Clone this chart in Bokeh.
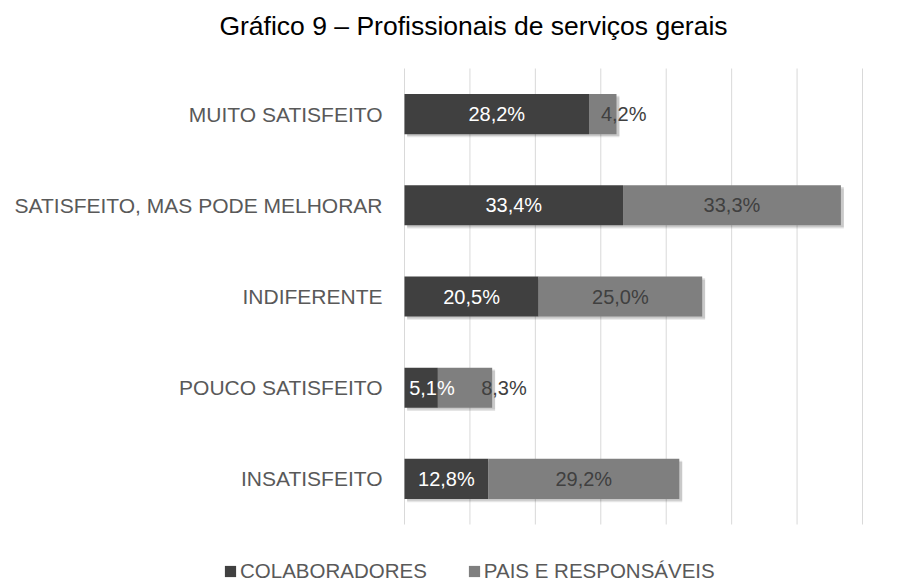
from bokeh.plotting import figure
from bokeh.models import ColumnDataSource, Legend, LegendItem, Label
from bokeh.transform import dodge
from bokeh.embed import file_html
from bokeh.resources import INLINE
from bokeh.core.properties import value

# ---- data ----
title_text = "Gráfico 9 – Profissionais de serviços gerais"
categories = ["MUITO SATISFEITO", "SATISFEITO, MAS PODE MELHORAR",
              "INDIFERENTE", "POUCO SATISFEITO", "INSATISFEITO"]
colaboradores = [28.2, 33.4, 20.5, 5.1, 12.8]
pais = [4.2, 33.3, 25.0, 8.3, 29.2]
series_names = ["COLABORADORES", "PAIS E RESPONSÁVEIS"]
grid_ticks = [0, 10, 20, 30, 40, 50, 60, 70]

FONT = "Liberation Sans"
C_DARK = "#404040"
C_LIGHT = "#7f7f7f"
TXT = "#595959"

# ---- layout geometry (pixels) ----
W, Hgt = 899, 583
OFF_X, OFF_Y = 1, 0          # page position of canvas origin (measured)
PLOT_L, PLOT_R = 405, 863    # page x of 0 % and 70 %
PLOT_T, PLOT_B = 68, 524     # page y of top/bottom of category area
n = len(categories)
kx = (PLOT_R - PLOT_L) / (grid_ticks[-1] - grid_ticks[0])
ky = (PLOT_B - PLOT_T) / n
x0 = grid_ticks[0] - (PLOT_L - OFF_X) / kx
x1 = x0 + W / kx
y1 = (PLOT_B - OFF_Y) / ky
y0 = y1 - Hgt / ky

def fmt(v):
    return f"{v:.1f}".replace(".", ",") + "%"

ypos = [n - i - 0.5 for i in range(n)]
total = [a + b for a, b in zip(colaboradores, pais)]
colab_lx = [max(a / 2, 4.2) for a in colaboradores]
pais_lx = [max(a + b / 2, a + 5.3, cx + 11.0) for a, b, cx in zip(colaboradores, pais, colab_lx)]

src = ColumnDataSource(dict(
    cat=categories, y=ypos, colab=colaboradores, pais=pais, total=total,
    zero=[0] * n,
    colab_lbl=[fmt(v) for v in colaboradores],
    pais_lbl=[fmt(v) for v in pais],
    colab_lx=colab_lx, pais_lx=pais_lx,
    sh_l=[0.4] * n, sh_r=[t + 0.45 for t in total],
    lab_x=[-22 / kx] * n,
))

p = figure(width=W, height=Hgt, x_range=(x0, x1), y_range=(y0, y1),
           min_border=0, output_backend="svg", toolbar_location=None,
           x_axis_location=None, y_axis_location=None)
p.outline_line_color = None
p.xgrid.grid_line_color = None
p.ygrid.grid_line_color = None
p.background_fill_color = "white"
p.border_fill_color = "white"

# vertical grid lines (category area only)
p.segment(x0=grid_ticks, x1=grid_ticks, y0=[0] * len(grid_ticks),
          y1=[n] * len(grid_ticks), line_color="#d9d9d9", line_width=1)

# category labels
p.text(x="lab_x", y="y", text="cat", source=src, text_align="right",
       text_baseline="middle", text_font=value(FONT), text_font_size="21px",
       text_color=TXT)

BH = 0.44
for off, a in [(0.035, 0.10), (0.02, 0.12)]:
    p.hbar(y=dodge("y", -off), left="sh_l", right="sh_r",
           height=BH, source=src, fill_color="black", fill_alpha=a, line_color=None)

r1 = p.hbar(y="y", left="zero", right="colab", height=BH, source=src,
            fill_color=C_DARK, line_color=None)
r2 = p.hbar(y="y", left="colab", right="total", height=BH, source=src,
            fill_color=C_LIGHT, line_color=None)

p.text(x="colab_lx", y="y", text="colab_lbl", source=src,
       text_align="center", text_baseline="middle",
       text_font=value(FONT), text_font_size="20px", text_color="white")
p.text(x="pais_lx", y="y", text="pais_lbl", source=src,
       text_align="center", text_baseline="middle",
       text_font=value(FONT), text_font_size="20px", text_color=C_DARK)

# title
p.add_layout(Label(x=474 - OFF_X, y=Hgt - 25, x_units="screen", y_units="screen",
                   text=title_text, text_align="center", text_baseline="alphabetic",
                   text_font=FONT, text_font_size="26.5px", text_color="black"))

legend = Legend(items=[LegendItem(label=series_names[0], renderers=[r1]),
                       LegendItem(label=series_names[1], renderers=[r2])],
                orientation="horizontal", location=(224 - OFF_X, 0),
                glyph_width=14, glyph_height=14, label_standoff=3,
                spacing=40, padding=0, margin=0,
                label_text_font=FONT, label_text_font_size="20.5px",
                label_text_color=TXT, label_height=20,
                background_fill_alpha=0, border_line_color=None)
p.add_layout(legend, "center")

open("out.html", "w").write(file_html(p, INLINE))
